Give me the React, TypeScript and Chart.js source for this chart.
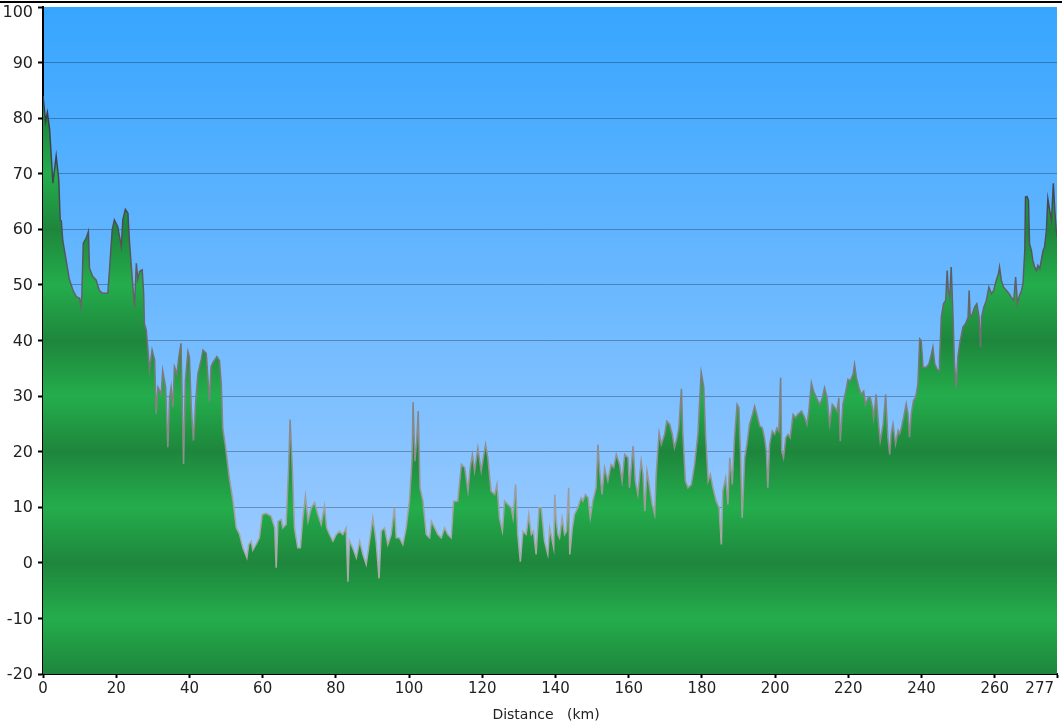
import React, { useEffect, useRef } from "react";
import { Chart, registerables } from "chart.js";

Chart.register(...registerables);

// Distance along the route (km)
const KM = [
  0, 0.7, 1.2, 1.8, 2.7, 3.6, 4.3, 4.7, 5.0, 5.4, 6.3, 7.2, 8.2, 9.1, 10.0, 10.3, 10.6, 11.0, 11.8, 12.4,
  12.7, 13.6, 14.5, 15.4, 16.3, 17.7, 18.2, 18.9, 19.5, 20.4, 21.4, 21.8, 22.5, 23.2, 23.6, 24.4, 25.0, 25.5, 25.9, 26.4,
  27.1, 27.5, 27.7, 28.2, 28.6, 29.1, 29.8, 30.5, 30.9, 31.4, 32.3, 32.7, 33.5, 34.1, 34.6, 35.0, 35.5, 35.9, 36.6, 37.1,
  37.7, 38.0, 38.4, 38.9, 39.6, 40.0, 40.5, 41.1, 41.7, 42.3, 43.2, 43.7, 44.6, 45.5, 45.9, 46.4,
  47.5, 48.2, 48.7, 49.1, 50.0, 50.9, 51.9, 52.8, 53.7, 54.6, 55.7, 56.2, 56.9, 57.3, 58.2, 59.1, 59.9, 61.0, 62.3, 63.3,
  63.7, 64.2, 65.1, 65.5, 66.4, 67.1, 67.5, 68.1, 68.7, 69.6, 70.3, 71.0, 71.7, 72.4, 73.3, 74.2, 75.1, 76.0, 76.9, 77.5,
  78.3, 79.2, 80.1, 81.0, 81.9, 82.8, 83.3, 83.7, 84.6, 85.6, 86.5, 87.4, 88.3, 89.2, 90.1, 91.0, 91.8,
  92.4, 93.3, 94.2, 95.1, 96.0, 96.5, 97.4, 98.3, 99.2, 100.1, 100.8, 101.1, 101.6, 102.1, 102.5, 103.0, 103.8, 104.7, 105.6, 106.1,
  107.0, 107.9, 108.8, 109.7, 110.6, 111.5, 112.2, 113.3, 114.3, 115.2, 116.1, 116.7, 117.3, 117.9, 118.8, 119.7, 120.9, 121.5, 122.4, 123.4,
  124.0, 124.7, 125.5, 126.1, 127.0, 127.9, 128.4, 129.1, 129.7, 130.4, 131.1, 132.0, 132.7, 133.4, 134.0, 134.7, 135.5, 136.1, 137.0, 137.9,
  138.4, 138.8, 139.5, 139.8, 140.2, 140.7, 141.1, 141.8, 142.5, 143.0, 143.6, 143.9, 144.6, 145.2, 146.1, 147.0, 147.5, 148.2, 148.9, 149.5,
  150.2, 151.1, 151.6, 152.0, 152.7, 153.4, 154.3, 155.2, 155.9, 156.6, 157.5, 158.2, 158.9, 159.8, 160.2, 161.2, 161.8, 162.5, 163.4, 163.9,
  164.4, 165.0, 165.7, 166.4, 167.1, 167.5, 168.3, 168.9, 169.8, 170.4, 171.2, 171.9, 172.5, 173.2, 173.7, 174.4, 174.8, 175.5, 176.2, 177.1,
  178.0, 178.9, 179.8, 180.5, 181.0, 181.7, 182.3, 183.0, 183.9, 184.7,
  185.3, 185.7, 186.5, 187.1, 187.6, 188.3, 188.9, 189.6, 190.1, 190.5, 191.0, 191.7, 192.3, 193.0, 193.8, 194.4, 195.0, 195.8, 196.5, 197.1,
  197.6, 198.0, 198.5, 199.2, 199.9, 200.5, 201.0, 201.5, 201.8, 202.3, 202.9, 203.5, 204.1, 204.9, 205.6, 206.2, 207.2, 208.1, 208.7, 209.2,
  209.9, 210.5, 211.3, 212.2, 212.9, 213.5, 214.2, 214.9, 215.6, 216.3, 216.9, 217.4, 217.8, 218.5, 219.3, 219.9, 220.5, 221.3, 221.7, 222.2,
  222.9, 223.5, 224.2, 224.7, 225.4, 226.0, 226.6, 226.9, 227.6, 228.1, 228.7, 229.5, 230.2, 230.8,
  231.3, 231.7, 232.2, 232.9, 233.6, 234.0, 234.5, 235.1, 235.8, 236.3, 236.7, 237.2, 237.8, 238.4, 239.0, 239.5, 239.9, 240.4, 241.3, 242.0,
  242.7, 243.1, 243.6, 244.2, 244.8, 244.9, 245.4, 246.0, 246.6, 247.0, 247.3, 247.7, 248.1, 248.6, 249.0, 249.5, 249.9, 250.4, 251.3, 252.0,
  252.7, 253.0, 253.3, 253.9, 254.5, 255.1, 255.7, 256.1, 256.4, 257.0, 257.7, 258.4, 259.1, 259.7, 260.4, 261.0, 261.3, 261.8, 262.4, 263.2,
  263.9, 264.5, 265.2, 265.7, 266.2, 266.6, 267.3, 267.7, 268.2, 268.4, 268.8, 269.2, 269.5, 270.0, 270.4, 270.9, 271.4, 271.8, 272.3, 272.7,
  273.2, 273.6, 274.1, 274.5, 275.0, 275.5, 276.0, 276.4, 276.8, 277.0,
];

// Elevation (m)
const ELEV = [
  84, 79.4, 81, 78, 68.3, 73.2, 69, 61.7, 61.5, 58, 54.5, 51, 49, 47.9, 47.6, 46, 48, 57.5, 58.4, 59.6,
  53, 51.5, 50.9, 49, 48.5, 48.5, 53, 59.9, 61.7, 60.5, 56.9, 61.7, 63.6, 62.9, 58, 50.9, 46, 53.9, 51, 52.4,
  52.7, 48.5, 43, 41.9, 38.9, 34.7, 38.3, 36.5, 26.8, 31.6, 30.4, 34.6, 31.6, 20.8, 29.8, 31.6, 28, 35.3, 34, 37,
  39.5, 30, 17.8, 32.8, 38, 37, 28, 22, 29, 34, 36.5, 38.3, 37.7, 29, 35.3, 36,
  37.1, 36.4, 32.2, 24.3, 20.1, 15.3, 11.1, 6.3, 5.1, 2.7, 0.9, 3.3, 3.9, 2.3, 3.3, 4.5, 8.7, 8.9, 8.4, 6.3,
  -0.9, 7.5, 7.8, 6.3, 6.9, 17.1, 25.8, 17.1, 6.3, 2.7, 2.7, 8.1, 12, 7.5, 9.9, 10.8, 8.7, 6.9, 10.2, 6.3,
  5.1, 3.9, 5.1, 5.7, 5.1, 6.3, -3.4, 4, 2.7, 0.9, 3.9, 1.5, -0.3, 3.9, 8.1, 3.9, -2.8,
  5.7, 6.3, 3.3, 5.1, 9.9, 4.5, 4.5, 3.3, 6.3, 11.1, 18.3, 28.9, 18.3, 21.9, 27.3, 13.5, 11.1, 5.1, 4.5, 7.5,
  6.3, 5.1, 4.5, 6.3, 5.1, 4.5, 11.1, 11.1, 17.7, 17.1, 12.9, 17.1, 19.5, 16.5, 20.7, 16.5, 21.3, 19, 12.9, 12.3,
  14.1, 8.1, 5.7, 11.1, 10.5, 9.9, 8.1, 14.1, 5.1, 0.2, 5.7, 5.1, 8.7, 5.1, 5.7, 1.5, 9.9, 9.9, 3.9, 1.5,
  6.3, 5.1, 2.7, 12.3, 7.5, 5.1, 4.5, 8.1, 5.1, 5.7, 13.5, 1.5, 6.3, 8.7, 9.9, 11.7, 11.1, 12.3, 11.7, 8.1,
  11.1, 13.5, 21.3, 17.1, 12.3, 17.1, 14.7, 17.7, 17.1, 19.5, 17.7, 14.7, 19.5, 18.9, 13.5, 21, 14.7, 12.3, 18.3, 15.9,
  9.3, 16.5, 13.5, 10.5, 8.7, 15.9, 23.4, 21.3, 23.1, 25.5, 24.9, 23.1, 20.7, 22.5, 24.3, 31.3, 23.1, 14.7, 13.5, 14.1,
  17.7, 23.1, 34.3, 31.6, 23.1, 14.7, 15.9, 13.5, 11.1, 9.9,
  3.3, 12.9, 15.3, 10.5, 18.9, 14.1, 22.5, 28.5, 27.9, 20.1, 8.1, 18.9, 21.3, 24.9, 26.7, 28.2, 26.7, 24.6, 24.3, 22.5,
  20.1, 13.5, 21.3, 23.7, 23.1, 24.3, 23.7, 33.3, 20.1, 18.9, 22.5, 23.1, 22.5, 26.7, 26.1, 26.7, 27.3, 26.1, 24.9, 27.3,
  32.4, 30.9, 29.7, 28.5, 29.7, 31.5, 29.7, 24.9, 28.5, 27.9, 27.3, 29.7, 21.9, 28.5, 30.9, 33, 32.7, 33.9, 35.7, 33.3,
  31.5, 30.3, 30.9, 28.5, 29.7, 29.7, 27.9, 26.1, 30.3, 26.1, 21.9, 24.9, 30.3, 22.5,
  19.5, 23.2, 25, 21.4, 23.8, 23.2, 24.4, 26.2, 28.6, 26.8, 22.6, 26.8, 29.2, 29.8, 32.2, 40.3, 40, 35.2, 35.2, 35.8,
  37.6, 38.8, 35.8, 34.9, 34.6, 36.4, 44.2, 46.6, 47.2, 52.6, 49, 47.8, 53.2, 44.2, 35.8, 31.6, 37, 39.4, 42.4, 43,
  44.2, 49, 44.2, 44.8, 46, 46.6, 44.2, 38.8, 44.2, 46, 47.2, 49.6, 48.4, 49, 50.8, 52, 53.2, 50.8, 49.6, 49,
  48.4, 47.8, 47.2, 51.4, 46.6, 47.8, 49, 50.2, 56.2, 65.8, 65.9, 65.2, 57.4, 56.2, 54.4, 53.2, 52.6, 53.5, 52.9, 54.4,
  56.2, 56.8, 59.8, 65.5, 63.4, 61.6, 68.3, 63.4, 59.8, 58.6,
];

const X_TICKS = [0, 20, 40, 60, 80, 100, 120, 140, 160, 180, 200, 220, 240, 260, 277];
const Y_MIN = -20;
const Y_MAX = 100;
const Y_STEP = 10;
const X_MAX = 277;
const X_TITLE = "Distance   (km)";

const FONT = "'DejaVu Sans', Verdana, sans-serif";
const TEXT_COLOR = "#222222";
const GREEN_DARK = "#1e863c";
const GREEN_BRIGHT = "#24ad4c";

export default function App() {
  const canvasRef = useRef<HTMLCanvasElement | null>(null);

  useEffect(() => {
    const canvas = canvasRef.current;
    if (!canvas) return;

    const plotBackground = {
      id: "plotBackground",
      beforeDraw(chart: any) {
        const { ctx, chartArea } = chart;
        if (!chartArea) return;
        const { left, top, right, bottom } = chartArea;
        const g = ctx.createLinearGradient(0, top, 0, bottom);
        g.addColorStop(0, "#37a5ff");
        g.addColorStop(1, "#b0d2ff");
        ctx.save();
        ctx.fillStyle = g;
        ctx.fillRect(left, top, right - left, bottom - top);
        ctx.restore();
      },
    };

    const customLabels = {
      id: "customLabels",
      afterDraw(chart: any) {
        const { ctx, chartArea, scales } = chart;
        const xs = scales.x;
        const ys = scales.y;
        ctx.save();
        ctx.fillStyle = TEXT_COLOR;
        ctx.font = `15px ${FONT}`;
        ctx.textBaseline = "middle";
        // x tick labels
        X_TICKS.forEach((v, i) => {
          const px = xs.getPixelForValue(v);
          const last = i === X_TICKS.length - 1;
          ctx.textAlign = last ? "right" : "center";
          ctx.fillText(String(v), last ? px - 3 : px, chartArea.bottom + 15);
        });
        // y tick labels
        ctx.font = `16px ${FONT}`;
        ctx.textAlign = "right";
        for (let v = Y_MIN; v <= Y_MAX; v += Y_STEP) {
          const py = ys.getPixelForValue(v);
          const y = Math.max(py + 1, chartArea.top + 6);
          ctx.fillText(String(v), ys.right - 10, y);
        }
        // axis title
        ctx.font = `14px ${FONT}`;
        ctx.textAlign = "center";
        ctx.fillText(X_TITLE, (chartArea.left + chartArea.right) / 2 - 4, 715);
        ctx.restore();
      },
    };

    const chart = new Chart(canvas, {
      type: "line",
      data: {
        datasets: [
          {
            data: KM.map((x, i) => ({ x, y: ELEV[i] })),
            fill: "start",
            tension: 0,
            pointRadius: 0,
            borderWidth: 1.5,
            borderColor: (c: any) => {
              const { chart: ch } = c;
              const { chartArea, scales } = ch;
              if (!chartArea || !scales.y) return "#888";
              const y = scales.y;
              const g = ch.ctx.createLinearGradient(0, y.getPixelForValue(Y_MAX), 0, y.getPixelForValue(Y_MIN));
              g.addColorStop(0, "#2a2f36");
              g.addColorStop(0.3, "#454a52");
              g.addColorStop(0.55, "#7a7a7a");
              g.addColorStop(0.8, "#a8a8a8");
              g.addColorStop(1, "#b0b0b0");
              return g;
            },
            backgroundColor: (c: any) => {
              const { chart: ch } = c;
              const { chartArea, scales } = ch;
              if (!chartArea || !scales.y) return GREEN_BRIGHT;
              const y = scales.y;
              const top = y.getPixelForValue(Y_MAX);
              const bot = y.getPixelForValue(Y_MIN);
              const g = ch.ctx.createLinearGradient(0, top, 0, bot);
              for (let v = Y_MAX; v >= Y_MIN; v -= Y_STEP) {
                g.addColorStop((Y_MAX - v) / (Y_MAX - Y_MIN), Math.abs(v) % 20 === 0 ? GREEN_DARK : GREEN_BRIGHT);
              }
              return g;
            },
          },
        ],
      },
      options: {
        animation: false,
        responsive: false,
        maintainAspectRatio: false,
        events: [],
        layout: { padding: { top: 7, right: 5, left: 0, bottom: 0 } },
        plugins: {
          legend: { display: false },
          tooltip: { enabled: false },
          title: { display: false },
        },
        scales: {
          x: {
            type: "linear",
            min: 0,
            max: X_MAX,
            z: 1,
            afterBuildTicks: (scale: any) => {
              scale.ticks = X_TICKS.map((value) => ({ value }));
            },
            afterFit: (scale: any) => {
              scale.height = 48;
              scale.paddingLeft = 0;
              scale.paddingRight = 0;
            },
            ticks: { display: false },
            grid: {
              drawOnChartArea: false,
              drawTicks: true,
              tickLength: 4,
              tickColor: "#000",
              tickWidth: 2,
              color: "#000",
            },
            border: { display: true, color: "#000", width: 2 },
          },
          y: {
            type: "linear",
            min: Y_MIN,
            max: Y_MAX,
            z: 1,
            afterFit: (scale: any) => {
              scale.width = 43;
              scale.paddingTop = 0;
              scale.paddingBottom = 0;
            },
            ticks: { display: false, stepSize: Y_STEP },
            grid: {
              drawTicks: true,
              tickLength: 5,
              tickColor: "#000",
              tickWidth: 2,
              lineWidth: 1,
              color: (c: any) =>
                c.tick && (c.tick.value === Y_MAX || c.tick.value === Y_MIN) ? "rgba(0,0,0,0)" : "rgba(0,0,0,0.28)",
            },
            border: { display: true, color: "#000", width: 2 },
          },
        },
      },
      plugins: [plotBackground, customLabels],
    } as any);

    return () => {
      chart.destroy();
    };
  }, []);

  return (
    <div style={{ position: "fixed", left: 0, top: 0, width: 1062, height: 722, background: "#fff" }}>
      <canvas ref={canvasRef} width={1062} height={722} style={{ display: "block", width: 1062, height: 722 }} />
      <div style={{ position: "absolute", left: 0, top: 1, width: 1062, height: 2, background: "#000" }} />
    </div>
  );
}
